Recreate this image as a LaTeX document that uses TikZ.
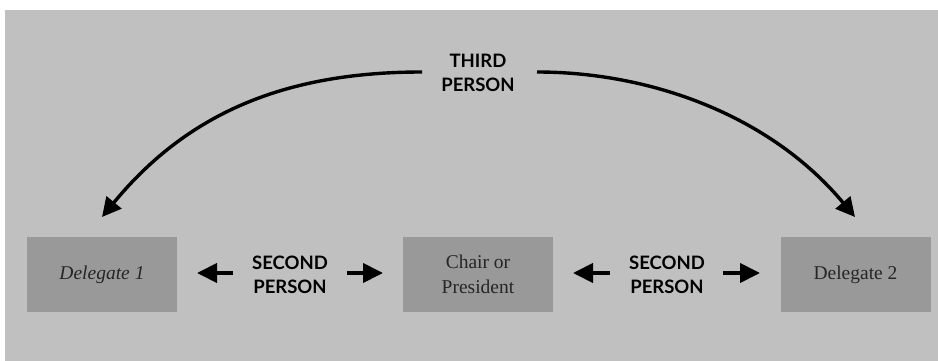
\documentclass[tikz,border=0pt]{standalone}
\usepackage{fontspec}
\setmainfont{Liberation Serif}
\newfontfamily\labelfont{Lato}
\usetikzlibrary{arrows.meta}
\definecolor{bggray}{HTML}{C0C0C0}
\definecolor{boxgray}{HTML}{999999}
\definecolor{boxtext}{HTML}{262626}
\tikzset{
  person/.style={font=\labelfont\bfseries\fontsize{18.5}{24}\selectfont, text=black, align=center, inner sep=0pt},
  box/.style={fill=boxgray, minimum width=150pt, minimum height=75pt, inner sep=0pt, text=boxtext, font=\fontsize{19.5}{25}\selectfont, align=center},
  sarrow/.style={line width=4pt, -{Triangle[length=20pt,width=19pt]}},
  carrow/.style={line width=3.4pt, -{Triangle[length=19pt,width=19pt]}}
}
\begin{document}
\begin{tikzpicture}[x=1pt,y=-1pt]
\useasboundingbox (0,0) rectangle (938,361);
\fill[white] (0,0) rectangle (938,361);
\fill[bggray] (5,10) rectangle (938,361);
\node[box] (d1) at (102,274.5) {\itshape Delegate 1};
\node[box] (ch) at (478,274.5) {Chair or\\President};
\node[box] (d2) at (855.5,274.5) {Delegate 2};
\node[person] (s1) at (290,275) {SECOND\\PERSON};
\node[person] (s2) at (667,275) {SECOND\\PERSON};
\node[person] (t) at (478,73) {THIRD\\PERSON};
\coordinate (s1l) at (233,273);
\coordinate (s1r) at (347,273);
\coordinate (s2l) at (610,273);
\coordinate (s2r) at (723,273);
\coordinate (d1in) at (197,273);
\coordinate (chinl) at (383,273);
\coordinate (chinr) at (573,273);
\coordinate (d2in) at (760,273);
\draw[sarrow] (s1l) -- (d1in);
\draw[sarrow] (s1r) -- (chinl);
\draw[sarrow] (s2l) -- (chinr);
\draw[sarrow] (s2r) -- (d2in);
\coordinate (tl) at (422,72);
\coordinate (tr) at (537,72);
\coordinate (d1top) at (102,217);
\coordinate (d2top) at (855,217);
\draw[carrow] (tl) .. controls (290,72) and (190,110) .. (d1top);
\draw[carrow] (tr) .. controls (650,72) and (770,115) .. (d2top);
\end{tikzpicture}
\end{document}
